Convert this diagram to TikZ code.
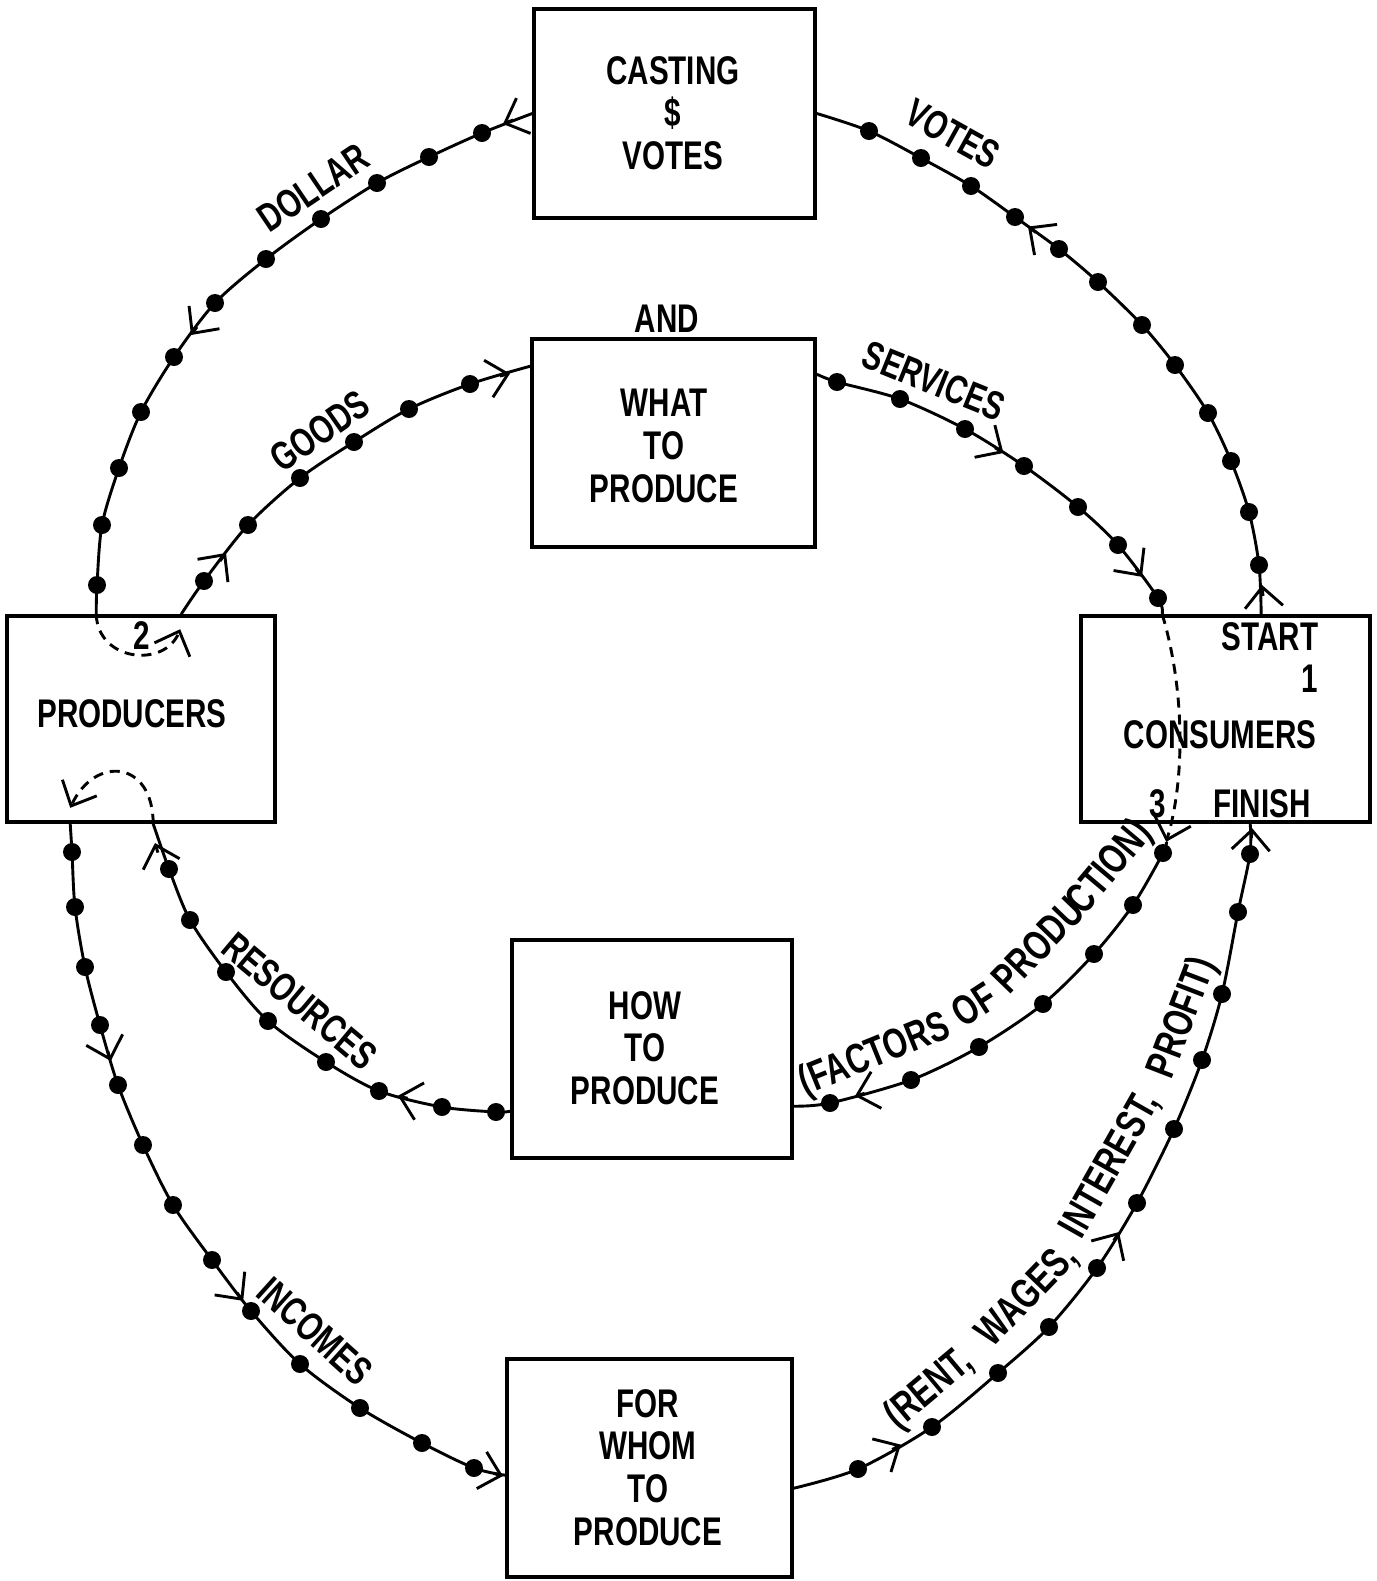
\documentclass[tikz,border=0pt]{standalone}
\usepackage{fontspec}
\setmainfont{Liberation Sans}[FakeStretch=0.74]
\usetikzlibrary{arrows.meta,calc}
\newcommand\arrowat[2]{\draw[flowln,tip] #1 -- #2;}
\begin{document}
\begin{tikzpicture}[x=0.5pt,y=-0.5pt,
  bx/.style={draw,line width=1.8pt,rectangle,inner sep=0pt},
  lbl/.style={inner sep=0pt,font=\fontsize{20}{21.3}\selectfont\bfseries},
  clbl/.style={inner sep=0pt,anchor=base,font=\fontsize{21}{24}\selectfont\bfseries},
  blk/.style={inner sep=0pt,align=center,anchor=north,font=\fontsize{20}{21.3}\selectfont\bfseries},
  flowln/.style={line width=1.45pt},
  dflow/.style={line width=1.45pt,dash pattern=on 5pt off 3.5pt},
  tip/.style={-{Straight Barb[length=10pt,width=19pt]}}
]
\fill[white] (0,0) rectangle (1377,1581);
\path[use as bounding box] (0,0) rectangle (1377,1581);

% boxes
\node[bx,minimum width=140.5pt,minimum height=104.5pt] (casting) at (674.5,113.5) {};
\node[bx,minimum width=141.5pt,minimum height=104pt] (what) at (673.5,443) {};
\node[bx,minimum width=134pt,minimum height=103pt] (producers) at (141,719) {};
\node[bx,minimum width=144.5pt,minimum height=103pt] (consumers) at (1225.5,719) {};
\node[bx,minimum width=140pt,minimum height=109pt] (how) at (652,1049) {};
\node[bx,minimum width=142.5pt,minimum height=109pt] (forwhom) at (649.5,1468) {};

% box texts
\node[blk] (tcast) at (673,56) {CASTING\\\$\\VOTES};
\node[blk] (twhat) at (664,389) {WHAT\\TO\\PRODUCE};
\node[blk] (thow) at (645,991) {HOW\\TO\\PRODUCE};
\node[blk] (tfor) at (648,1389) {FOR\\WHOM\\TO\\PRODUCE};
\node[lbl,anchor=base] (tand) at (667,332) {AND};
\node[lbl,anchor=base] (tprod) at (132,727) {PRODUCERS};
\node[lbl,anchor=base] (ttwo) at (142,649) {2};
\node[lbl,anchor=base] (tstart) at (1270,650) {START};
\node[lbl,anchor=base] (tone) at (1310,692) {1};
\node[lbl,anchor=base] (tcons) at (1220,748) {CONSUMERS};
\node[lbl,anchor=base] (tthree) at (1158,817) {3};
\node[lbl,anchor=base] (tfin) at (1262,817) {FINISH};

% connection points
\coordinate (cL) at (casting.west);
\coordinate (cR) at (casting.east);
\coordinate (wL) at ($(what.north west)+(0,29)$);
\coordinate (wR) at ($(what.north east)+(0,37)$);
\coordinate (pTL) at ($(producers.north west)+(91,0)$);
\coordinate (pTR) at ($(producers.north west)+(176,0)$);
\coordinate (pTR2) at ($(producers.north west)+(175,15)$);
\coordinate (pBL) at ($(producers.south west)+(65,0)$);
\coordinate (pBL2) at ($(producers.south west)+(65,-16)$);
\coordinate (pBR) at ($(producers.south west)+(148,0)$);
\coordinate (kTL) at ($(consumers.north west)+(83,0)$);
\coordinate (kTR) at ($(consumers.north west)+(182,0)$);
\coordinate (kBL) at ($(consumers.south west)+(87,18)$);
\coordinate (kBR) at ($(consumers.south west)+(171,0)$);
\coordinate (hL) at ($(how.north west)+(0,173)$);
\coordinate (hR) at ($(how.north east)+(0,168)$);
\coordinate (fL) at ($(forwhom.north west)+(0,118)$);
\coordinate (fR) at ($(forwhom.north east)+(0,131)$);

% DOLLAR
\draw[flowln] plot[smooth] coordinates {(cL) (482,133) (429,157) (377,183) (321,219) (266,259) (215,303) (174,357) (141,412) (119,468) (102,525) (97,585) (pTL)};
\foreach \x/\y in {482/133,429/157,377/183,321/219,266/259,215/303,174/357,141/412,119/468,102/525,97/585} \fill (\x,\y) circle (4.5pt);
\arrowat{(513,120)}{(503,124)}
\arrowat{(197,327)}{(191,335)}
% VOTES
\draw[flowln] plot[smooth] coordinates {(kTR) (1259,565) (1249,512) (1231,461) (1208,413) (1175,365) (1142,325) (1098,282) (1059,249) (1015,217) (971,186) (921,158) (869,131) (cR)};
\foreach \x/\y in {1259/565,1249/512,1231/461,1208/413,1175/365,1142/325,1098/282,1059/249,1015/217,971/186,921/158,869/131} \fill (\x,\y) circle (4.5pt);
\arrowat{(1263,596)}{(1262,585)}
\arrowat{(1036,232.5)}{(1028,226.6)}
% GOODS
\draw[flowln] plot[smooth] coordinates {(pTR) (204,581) (248,525) (300,478) (354,442) (409,409) (470,384) (wL)};
\foreach \x/\y in {204/581,248/525,300/478,354/442,409/409,470/384} \fill (\x,\y) circle (4.5pt);
\arrowat{(220,561)}{(226,553)}
\arrowat{(500,376)}{(510,373.6)}
% SERVICES
\draw[flowln] plot[smooth] coordinates {(wR) (837,382) (900,399) (965,429) (1024,466) (1078,507) (1118,545) (1158,598) (kTL)};
\foreach \x/\y in {837/382,900/399,965/429,1024/466,1078/507,1118/545,1158/598} \fill (\x,\y) circle (4.5pt);
\arrowat{(995,447.7)}{(1003.4,453)}
\arrowat{(1136,568.8)}{(1142,576.8)}
% FACTORS
\draw[flowln] plot[smooth] coordinates {(kBL) (1163,853) (1133,905) (1094,954) (1043,1004) (979,1047) (911,1080) (830,1103) (hR)};
\foreach \x/\y in {1163/853,1133/905,1094/954,1043/1004,979/1047,911/1080,830/1103} \fill (\x,\y) circle (4.5pt);
\arrowat{(864.6,1093.3)}{(855,1096)}
% RESOURCES
\draw[flowln] plot[smooth] coordinates {(hL) (496,1112) (442,1107) (379,1091) (326,1062) (268,1021) (226,972) (190,920) (169,869) (pBR)};
\foreach \x/\y in {496/1112,442/1107,379/1091,326/1062,268/1021,226/972,190/920,169/869} \fill (\x,\y) circle (4.5pt);
\arrowat{(407.6,1098.3)}{(397.9,1095.8)}
\arrowat{(157.9,852.6)}{(155,843)}
% INCOMES
\draw[flowln] plot[smooth] coordinates {(pBL) (72,852) (75,907) (85,967) (100,1025) (118,1085) (143,1145) (173,1205) (212,1260) (251,1311) (300,1364) (360,1408) (422,1443) (474,1468) (fL)};
\foreach \x/\y in {72/852,75/907,85/967,100/1025,118/1085,143/1145,173/1205,212/1260,251/1311,300/1364,360/1408,422/1443,474/1468} \fill (\x,\y) circle (4.5pt);
\arrowat{(107.9,1051.4)}{(110.8,1061)}
\arrowat{(237.1,1292.9)}{(243.2,1300.8)}
\arrowat{(493.4,1473.4)}{(503,1476)}
% RENT
\draw[flowln] plot[smooth] coordinates {(fR) (858,1469) (932,1427) (998,1373) (1049,1327) (1097,1268) (1137,1203) (1174,1129) (1202,1060) (1222,994) (1238,912) (1250,854) (kBR)};
\foreach \x/\y in {858/1469,932/1427,998/1373,1049/1327,1097/1268,1137/1203,1174/1129,1202/1060,1222/994,1238/912,1250/854} \fill (\x,\y) circle (4.5pt);
\arrowat{(892.2,1449.5)}{(900.9,1444.6)}
\arrowat{(1113.8,1240.5)}{(1119,1232)}
\arrowat{(1251.4,838)}{(1252,828)}

% dashed transfers
\draw[dflow,tip] (pTL) .. controls (98,662) and (165,668) .. (pTR2);
\draw[dflow,tip] (pBR) .. controls (153,760) and (95,755) .. (pBL2);
\draw[dflow,tip] (kTL) .. controls (1185,690) and (1185,780) .. (kBL);

% labels
\node[lbl,rotate=34] (tdollar) at (313,188) {DOLLAR};
\node[lbl,rotate=-29] (tvotes) at (953,134) {VOTES};
\node[lbl,rotate=35] (tgoods) at (320,431) {GOODS};
\node[lbl,rotate=-22] (tserv) at (934,381) {SERVICES};
\node[lbl,rotate=-40] (tres) at (300,1001) {RESOURCES};
\node[lbl,rotate=-42] (tinc) at (315,1331) {INCOMES};
\node[clbl,rotate=22] (tfa) at (879,1066) {(FACTORS};
\node[clbl,rotate=33] (tfb) at (982,1017) {OF};
\node[clbl,rotate=46] (tfc) at (1048,955) {PRODU};
\node[clbl,rotate=50] (tfd) at (1119,875) {CTION)};
\node[clbl,rotate=40] (tra) at (937,1398) {(RENT,};
\node[clbl,rotate=46] (trb) at (1036,1304) {WAGES,};
\node[clbl,rotate=60.5] (trc) at (1121,1171) {INTEREST,};
\node[clbl,rotate=69] (trd) at (1194,1022) {PROFIT)};
\end{tikzpicture}
\end{document}
